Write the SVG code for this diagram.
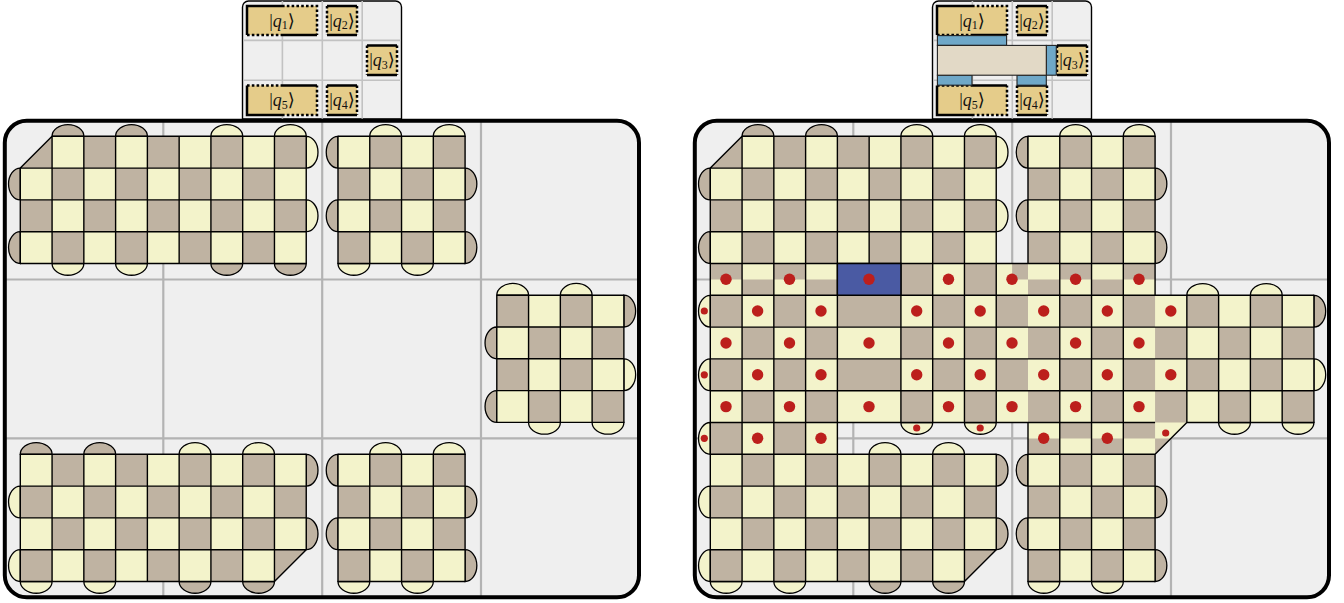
<svg xmlns="http://www.w3.org/2000/svg" width="1344" height="603" viewBox="0 0 1344 603">
<style>
.bg{fill:#efefef}
.grid{stroke:#b3b3b3;stroke-width:2.2;fill:none}
.gridS{stroke:#c2c2c2;stroke-width:1.6;fill:none}
.box{fill:none;stroke:#000;stroke-width:4}
.boxS{fill:#efefef;stroke:#000;stroke-width:1.4}
.Y{fill:#f3f3cb}
.B{fill:#bfb3a2}
.ln{fill:none;stroke:#000;stroke-width:1.4;stroke-linejoin:round}
path{vector-effect:non-scaling-stroke}
.cap{stroke:#000;stroke-width:1.3}
.tok{fill:#e5cc8a}
.sol{fill:none;stroke:#000;stroke-width:2.5}
.dot{fill:none;stroke:#000;stroke-width:2.5;stroke-dasharray:2.6 2.2}
.lb{font-family:"Liberation Serif","DejaVu Serif",serif;font-size:18px;fill:#111;text-anchor:middle}
.lb .i{font-style:italic}
.lb .s{font-size:12px}
.blu{fill:#6fa8c8;stroke:#222;stroke-width:1.1}
.mrg{fill:#e2d9c6;stroke:#222;stroke-width:1.1}
.nv{fill:#4a5aa3;stroke:#000;stroke-width:1.4}
.rd{fill:#bc1f1c}
</style>
<defs>
<path id="ct" d="M0 0C0 -.2 .22 -.37 .5 -.37S1 -.2 1 0Z"/>
<path id="cb" d="M0 0C0 .2 .22 .37 .5 .37S1 .2 1 0Z"/>
<path id="cl" d="M0 0C-.2 0 -.37 .22 -.37 .5S-.2 1 0 1Z"/>
<path id="cr" d="M0 0C.2 0 .37 .22 .37 .5S.2 1 0 1Z"/>
<path id="bA" d="M1 0V1H0ZM2 0h1v1h-1zM4 0h1v1h-1zM6 0h1v1h-1zM8 0h1v1h-1zM1 1h1v1h-1zM3 1h1v1h-1zM5 1h1v1h-1zM7 1h1v1h-1zM0 2h1v1h-1zM2 2h1v1h-1zM4 2h1v1h-1zM6 2h1v1h-1zM8 2h1v1h-1zM1 3h1v1h-1zM3 3h1v1h-1zM5 3h1v1h-1zM7 3h1v1h-1z"/>
<path id="bD" d="M1 0h1v1h-1zM3 0h1v1h-1zM5 0h1v1h-1zM7 0h1v1h-1zM0 1h1v1h-1zM2 1h1v1h-1zM4 1h1v1h-1zM6 1h1v1h-1zM8 1h1v1h-1zM1 2h1v1h-1zM3 2h1v1h-1zM5 2h1v1h-1zM7 2h1v1h-1zM0 3h1v1h-1zM2 3h1v1h-1zM4 3h1v1h-1zM6 3h1v1h-1zM8 3H9L8 4Z"/>
<path id="bE" d="M1 0h1v1h-1zM3 0h1v1h-1zM0 1h1v1h-1zM2 1h1v1h-1zM1 2h1v1h-1zM3 2h1v1h-1zM0 3h1v1h-1zM2 3h1v1h-1z"/>
<path id="bC" d="M0 0h1v1h-1zM2 0h1v1h-1zM1 1h1v1h-1zM3 1h1v1h-1zM0 2h1v1h-1zM2 2h1v1h-1zM1 3h1v1h-1zM3 3h1v1h-1z"/>
</defs>

<g id="panel-left-frame">
<path class="boxS" d="M248.5 1H395.5A6 6 0 0 1 401.5 7V119H242.5V7A6 6 0 0 1 248.5 1Z"/>
<path class="gridS" d="M282.4 1V119M322.3 1V119M362.2 1V119M243 40.4H401M243 80.3H401"/>
<rect class="bg" x="4.8" y="120.8" width="634.2" height="476.5" rx="22"/>
<path class="grid" d="M163.3 121V597M322.2 121V597M481 121V597M5 279.5H639M5 438.3H639"/>
</g>

<g id="panel-right-frame">
<path class="boxS" d="M938.5 1H1085.5A6 6 0 0 1 1091.5 7V119H932.5V7A6 6 0 0 1 938.5 1Z"/>
<path class="gridS" d="M972.4 1V119M1012.3 1V119M1052.2 1V119M933 40.4H1091M933 80.3H1091"/>
<rect class="bg" x="694.8" y="120.8" width="634.2" height="476.5" rx="22"/>
<path class="grid" d="M853.3 121V597M1012.2 121V597M1171 121V597M695 279.5H1329M695 438.3H1329"/>
</g>

<g id="tokens-left">
<g id="q1-left"><rect class="tok" x="247" y="6" width="70" height="29"/><path class="sol" d="M282 6H247V35"/><path class="dot" d="M282 6H317V35"/><path class="dot" d="M247 35H282"/><path class="sol" d="M282 35H317"/><text class="lb" x="282" y="26.5">|<tspan class="i">q</tspan><tspan class="s" dy="2.5">1</tspan><tspan dy="-2.5">⟩</tspan></text></g>
<g id="q2-left"><rect class="tok" x="327" y="6" width="30" height="29"/><path class="sol" d="M327 6H357M327 35H357"/><path class="dot" d="M327 6V35M357 6V35"/><text class="lb" x="342" y="26.5">|<tspan class="i">q</tspan><tspan class="s" dy="2.5">2</tspan><tspan dy="-2.5">⟩</tspan></text></g>
<g id="q3-left"><rect class="tok" x="367" y="45.5" width="30" height="29.5"/><path class="sol" d="M367 45.5H397M367 75H397"/><path class="dot" d="M367 45.5V75M397 45.5V75"/><text class="lb" x="382" y="66">|<tspan class="i">q</tspan><tspan class="s" dy="2.5">3</tspan><tspan dy="-2.5">⟩</tspan></text></g>
<g id="q5-left"><rect class="tok" x="247" y="85.5" width="70" height="29.5"/><path class="sol" d="M282 85.5H317"/><path class="dot" d="M247 85.5H282"/><path class="sol" d="M247 85.5V115H282"/><path class="dot" d="M282 115H317V85.5"/><text class="lb" x="282" y="106">|<tspan class="i">q</tspan><tspan class="s" dy="2.5">5</tspan><tspan dy="-2.5">⟩</tspan></text></g>
<g id="q4-left"><rect class="tok" x="327" y="85.5" width="30" height="29.5"/><path class="sol" d="M327 85.5H357M327 115H357"/><path class="dot" d="M327 85.5V115M357 85.5V115"/><text class="lb" x="342" y="106">|<tspan class="i">q</tspan><tspan class="s" dy="2.5">4</tspan><tspan dy="-2.5">⟩</tspan></text></g>
</g>

<g id="tokens-right">
<g id="q1-right"><rect class="tok" x="937" y="6" width="70" height="29"/><path class="sol" d="M972 6H937V35"/><path class="dot" d="M972 6H1007V35"/><path class="dot" d="M937 35H972"/><path class="sol" d="M972 35H1007"/><text class="lb" x="972" y="26.5">|<tspan class="i">q</tspan><tspan class="s" dy="2.5">1</tspan><tspan dy="-2.5">⟩</tspan></text></g>
<g id="q2-right"><rect class="tok" x="1017" y="6" width="30" height="29"/><path class="sol" d="M1017 6H1047M1017 35H1047"/><path class="dot" d="M1017 6V35M1047 6V35"/><text class="lb" x="1032" y="26.5">|<tspan class="i">q</tspan><tspan class="s" dy="2.5">2</tspan><tspan dy="-2.5">⟩</tspan></text></g>
<g id="q3-right"><rect class="tok" x="1057" y="45.5" width="30" height="29.5"/><path class="sol" d="M1057 45.5H1087M1057 75H1087"/><path class="dot" d="M1057 45.5V75M1087 45.5V75"/><text class="lb" x="1072" y="66">|<tspan class="i">q</tspan><tspan class="s" dy="2.5">3</tspan><tspan dy="-2.5">⟩</tspan></text></g>
<g id="q5-right"><rect class="tok" x="937" y="85.5" width="70" height="29.5"/><path class="sol" d="M972 85.5H1007"/><path class="dot" d="M937 85.5H972"/><path class="sol" d="M937 85.5V115H972"/><path class="dot" d="M972 115H1007V85.5"/><text class="lb" x="972" y="106">|<tspan class="i">q</tspan><tspan class="s" dy="2.5">5</tspan><tspan dy="-2.5">⟩</tspan></text></g>
<g id="q4-right"><rect class="tok" x="1017" y="85.5" width="30" height="29.5"/><path class="sol" d="M1017 85.5H1047M1017 115H1047"/><path class="dot" d="M1017 85.5V115M1047 85.5V115"/><text class="lb" x="1032" y="106">|<tspan class="i">q</tspan><tspan class="s" dy="2.5">4</tspan><tspan dy="-2.5">⟩</tspan></text></g>
<g id="merge-region">
<rect class="blu" x="937.4" y="35.6" width="69.2" height="9.8"/>
<rect class="blu" x="1046.3" y="45.4" width="10" height="29.8"/>
<rect class="blu" x="937.4" y="75.2" width="34.6" height="10"/>
<rect class="blu" x="1017" y="75.2" width="29.3" height="10"/>
<rect class="mrg" x="937.4" y="45.4" width="108.9" height="29.8"/>
</g>
</g>

<g id="patch-A" transform="translate(20.3 136.3) scale(31.77 31.8)">
<use href="#ct" x="1" y="0" class="B cap"/><use href="#ct" x="3" y="0" class="B cap"/><use href="#ct" x="6" y="0" class="Y cap"/><use href="#ct" x="8" y="0" class="Y cap"/>
<use href="#cb" x="1" y="4" class="Y cap"/><use href="#cb" x="3" y="4" class="Y cap"/><use href="#cb" x="6" y="4" class="B cap"/><use href="#cb" x="8" y="4" class="B cap"/>
<use href="#cl" x="0" y="1" class="B cap"/><use href="#cl" x="0" y="3" class="B cap"/>
<use href="#cr" x="9" y="0" class="Y cap"/><use href="#cr" x="9" y="2" class="Y cap"/>
<path class="Y" d="M1 0H9V4H0V1Z"/><use href="#bA" class="B"/>
<path class="ln" d="M1 0H9V4H0V1ZM1 0V4M2 0V4M3 0V4M4 0V4M5 0V4M6 0V4M7 0V4M8 0V4M0 1H9M0 2H9M0 3H9"/>
</g>
<g id="patch-B" transform="translate(338 136.3) scale(31.77 31.8)">
<use href="#ct" x="1" y="0" class="Y cap"/><use href="#ct" x="3" y="0" class="Y cap"/>
<use href="#cb" x="0" y="4" class="Y cap"/><use href="#cb" x="2" y="4" class="Y cap"/>
<use href="#cl" x="0" y="0" class="B cap"/><use href="#cl" x="0" y="2" class="B cap"/>
<use href="#cr" x="4" y="1" class="B cap"/><use href="#cr" x="4" y="3" class="B cap"/>
<path class="Y" d="M0 0H4V4H0Z"/><use href="#bE" class="B"/>
<path class="ln" d="M0 0H4V4H0ZM1 0V4M2 0V4M3 0V4M0 1H4M0 2H4M0 3H4"/>
</g>
<g id="patch-C" transform="translate(496.8 295.2) scale(31.77 31.8)">
<use href="#ct" x="0" y="0" class="Y cap"/><use href="#ct" x="2" y="0" class="Y cap"/>
<use href="#cb" x="1" y="4" class="Y cap"/><use href="#cb" x="3" y="4" class="Y cap"/>
<use href="#cl" x="0" y="1" class="B cap"/><use href="#cl" x="0" y="3" class="B cap"/>
<use href="#cr" x="4" y="0" class="B cap"/><use href="#cr" x="4" y="2" class="Y cap"/>
<path class="Y" d="M0 0H4V4H0Z"/><use href="#bC" class="B"/>
<path class="ln" d="M0 0H4V4H0ZM1 0V4M2 0V4M3 0V4M0 1H4M0 2H4M0 3H4"/>
</g>
<g id="patch-D" transform="translate(20.3 454.3) scale(31.77 31.8)">
<use href="#ct" x="0" y="0" class="B cap"/><use href="#ct" x="2" y="0" class="B cap"/><use href="#ct" x="5" y="0" class="Y cap"/><use href="#ct" x="7" y="0" class="Y cap"/>
<use href="#cb" x="0" y="4" class="Y cap"/><use href="#cb" x="2" y="4" class="Y cap"/><use href="#cb" x="5" y="4" class="B cap"/><use href="#cb" x="7" y="4" class="B cap"/>
<use href="#cl" x="0" y="1" class="Y cap"/><use href="#cl" x="0" y="3" class="Y cap"/>
<use href="#cr" x="9" y="0" class="B cap"/><use href="#cr" x="9" y="2" class="B cap"/>
<path class="Y" d="M0 0H9V3L8 4H0Z"/><use href="#bD" class="B"/>
<path class="ln" d="M0 0H9V3L8 4H0ZM1 0V4M2 0V4M3 0V4M4 0V4M5 0V4M6 0V4M7 0V4M8 0V4M0 1H9M0 2H9M0 3H9"/>
</g>
<g id="patch-E" transform="translate(338 454.3) scale(31.77 31.8)">
<use href="#ct" x="1" y="0" class="Y cap"/><use href="#ct" x="3" y="0" class="Y cap"/>
<use href="#cb" x="0" y="4" class="Y cap"/><use href="#cb" x="2" y="4" class="Y cap"/>
<use href="#cl" x="0" y="0" class="B cap"/><use href="#cl" x="0" y="2" class="B cap"/>
<use href="#cr" x="4" y="1" class="B cap"/><use href="#cr" x="4" y="3" class="B cap"/>
<path class="Y" d="M0 0H4V4H0Z"/><use href="#bE" class="B"/>
<path class="ln" d="M0 0H4V4H0ZM1 0V4M2 0V4M3 0V4M0 1H4M0 2H4M0 3H4"/>
</g>

<g id="merged-patch" transform="translate(710.3 136.3) scale(31.77 31.8)">
<use href="#ct" x="1" y="0" class="B cap"/><use href="#ct" x="3" y="0" class="B cap"/><use href="#ct" x="6" y="0" class="Y cap"/><use href="#ct" x="8" y="0" class="Y cap"/>
<use href="#ct" x="11" y="0" class="Y cap"/><use href="#ct" x="13" y="0" class="Y cap"/>
<use href="#ct" x="15" y="5" class="Y cap"/><use href="#ct" x="17" y="5" class="Y cap"/>
<use href="#ct" x="5" y="10" class="Y cap"/><use href="#ct" x="7" y="10" class="Y cap"/>
<use href="#cb" x="6" y="9" class="Y cap"/><use href="#cb" x="8" y="9" class="Y cap"/>
<use href="#cb" x="16" y="9" class="Y cap"/><use href="#cb" x="18" y="9" class="Y cap"/>
<use href="#cb" x="0" y="14" class="Y cap"/><use href="#cb" x="2" y="14" class="Y cap"/><use href="#cb" x="5" y="14" class="B cap"/><use href="#cb" x="7" y="14" class="B cap"/>
<use href="#cb" x="10" y="14" class="Y cap"/><use href="#cb" x="12" y="14" class="Y cap"/>
<use href="#cl" x="0" y="1" class="B cap"/><use href="#cl" x="0" y="3" class="B cap"/>
<use href="#cl" x="0" y="5" class="Y cap"/><use href="#cl" x="0" y="7" class="Y cap"/><use href="#cl" x="0" y="9" class="Y cap"/>
<use href="#cl" x="0" y="11" class="Y cap"/><use href="#cl" x="0" y="13" class="Y cap"/>
<use href="#cl" x="10" y="0" class="B cap"/><use href="#cl" x="10" y="2" class="B cap"/>
<use href="#cl" x="10" y="10" class="B cap"/><use href="#cl" x="10" y="12" class="B cap"/>
<use href="#cr" x="9" y="0" class="Y cap"/><use href="#cr" x="9" y="2" class="Y cap"/>
<use href="#cr" x="9" y="10" class="B cap"/><use href="#cr" x="9" y="12" class="B cap"/>
<use href="#cr" x="14" y="1" class="B cap"/><use href="#cr" x="14" y="3" class="B cap"/>
<use href="#cr" x="14" y="11" class="B cap"/><use href="#cr" x="14" y="13" class="B cap"/>
<use href="#cr" x="19" y="5" class="B cap"/><use href="#cr" x="19" y="7" class="Y cap"/>
<path class="Y" d="M1 0H9V4H10V0H14V5H19V9H15L14 10V14H10V9H4V10H9V13L8 14H0V1Z"/>
<use href="#bA" class="B"/><use href="#bE" x="10" y="0" class="B"/><use href="#bC" x="15" y="5" class="B"/><use href="#bD" x="0" y="10" class="B"/><use href="#bE" x="10" y="10" class="B"/>
<path class="B" d="M0 4h1v.5h-1zM2 4h1v.5h-1zM1 4.5h1v.5h-1zM3 4.5h1v.5h-1zM6 4h1v1h-1zM8 4h1v1h-1zM9.5 4h.5v.5h-.5zM10 4.5h1v.5h-1zM11 4h1v.5h-1zM12 4.5h1v.5h-1zM13 4h1v.5h-1zM0 5h1v1h-1zM2 5h1v1h-1zM4 5h2v1h-2zM7 5h1v1h-1zM9 5h1v1h-1zM11 5h1v1h-1zM13 5h1v1h-1zM1 6h1v1h-1zM3 6h1v1h-1zM6 6h1v1h-1zM8 6h1v1h-1zM10 6h1v1h-1zM12 6h1v1h-1zM14 6h1v1h-1zM0 7h1v1h-1zM2 7h1v1h-1zM4 7h2v1h-2zM7 7h1v1h-1zM9 7h1v1h-1zM11 7h1v1h-1zM13 7h1v1h-1zM1 8h1v1h-1zM3 8h1v1h-1zM6 8h1v1h-1zM8 8h1v1h-1zM10 8h1v1h-1zM12 8h1v1h-1zM14 8h1v1h-1zM0 9h1v1h-1zM2 9h1v1h-1zM10 9.5h1v.5h-1zM11 9h1v.5h-1zM12 9.5h1v.5h-1zM13 9h1v.5h-1zM14 9.5h.5L14 10Z"/>
<path class="ln" d="M1 0H9V4H10V0H14V5H19V9H15L14 10V14H10V9H4V10H9V13L8 14H0V1ZM1 0V14M2 0V14M3 0V14M4 0V9M4 10V14M5 0V4M5 10V14M6 0V9M6 10V14M7 0V9M7 10V14M8 0V9M8 10V14M9 4V9M11 0V14M12 0V14M13 0V14M15 5V9M16 5V9M17 5V9M18 5V9M0 1H9M10 1H14M0 2H9M10 2H14M0 3H9M10 3H14M0 4H14M0 5H19M0 6H19M0 7H19M0 8H19M0 9H4M10 9H14M0 10H4M10 10H14M0 11H9M10 11H14M0 12H9M10 12H14M0 13H9M10 13H14"/>
<rect class="nv" x="4" y="4" width="2" height="1" style="vector-effect:non-scaling-stroke"/>
</g>

<g id="defects">
<g class="rd">
<circle cx="726" cy="279.2" r="5.7"/><circle cx="789.5" cy="279.2" r="5.7"/><circle cx="869" cy="279.2" r="5.7"/><circle cx="948.5" cy="279.2" r="5.7"/><circle cx="1012" cy="279.2" r="5.7"/><circle cx="1075.6" cy="279.2" r="5.7"/><circle cx="1139" cy="279.2" r="5.7"/>
<circle cx="757.6" cy="311" r="5.7"/><circle cx="821" cy="311" r="5.7"/><circle cx="916.7" cy="311" r="5.7"/><circle cx="980.2" cy="311" r="5.7"/><circle cx="1043.7" cy="311" r="5.7"/><circle cx="1107.3" cy="311" r="5.7"/><circle cx="1170.8" cy="311" r="5.7"/>
<circle cx="726" cy="343" r="5.7"/><circle cx="789.5" cy="343" r="5.7"/><circle cx="869" cy="343" r="5.7"/><circle cx="948.5" cy="343" r="5.7"/><circle cx="1012" cy="343" r="5.7"/><circle cx="1075.6" cy="343" r="5.7"/><circle cx="1139" cy="343" r="5.7"/>
<circle cx="757.6" cy="374.8" r="5.7"/><circle cx="821" cy="374.8" r="5.7"/><circle cx="916.7" cy="374.8" r="5.7"/><circle cx="980.2" cy="374.8" r="5.7"/><circle cx="1043.7" cy="374.8" r="5.7"/><circle cx="1107.3" cy="374.8" r="5.7"/><circle cx="1170.8" cy="374.8" r="5.7"/>
<circle cx="726" cy="406.6" r="5.7"/><circle cx="789.5" cy="406.6" r="5.7"/><circle cx="869" cy="406.6" r="5.7"/><circle cx="948.5" cy="406.6" r="5.7"/><circle cx="1012" cy="406.6" r="5.7"/><circle cx="1075.6" cy="406.6" r="5.7"/><circle cx="1139" cy="406.6" r="5.7"/>
<circle cx="757.6" cy="438.3" r="5.7"/><circle cx="821" cy="438.3" r="5.7"/><circle cx="1043.7" cy="438.3" r="5.7"/><circle cx="1107.3" cy="438.3" r="5.7"/>
<circle cx="704.3" cy="311" r="3.6"/><circle cx="704.3" cy="374.8" r="3.6"/><circle cx="704.3" cy="438.3" r="3.6"/><circle cx="916.7" cy="428" r="3.6"/><circle cx="980.2" cy="428" r="3.6"/><circle cx="1165.7" cy="433" r="3.6"/>
</g>
</g>

<g id="frames">
<rect class="box" x="4.8" y="120.8" width="634.2" height="476.5" rx="22"/>
<rect class="box" x="694.8" y="120.8" width="634.2" height="476.5" rx="22"/>
</g>
</svg>
